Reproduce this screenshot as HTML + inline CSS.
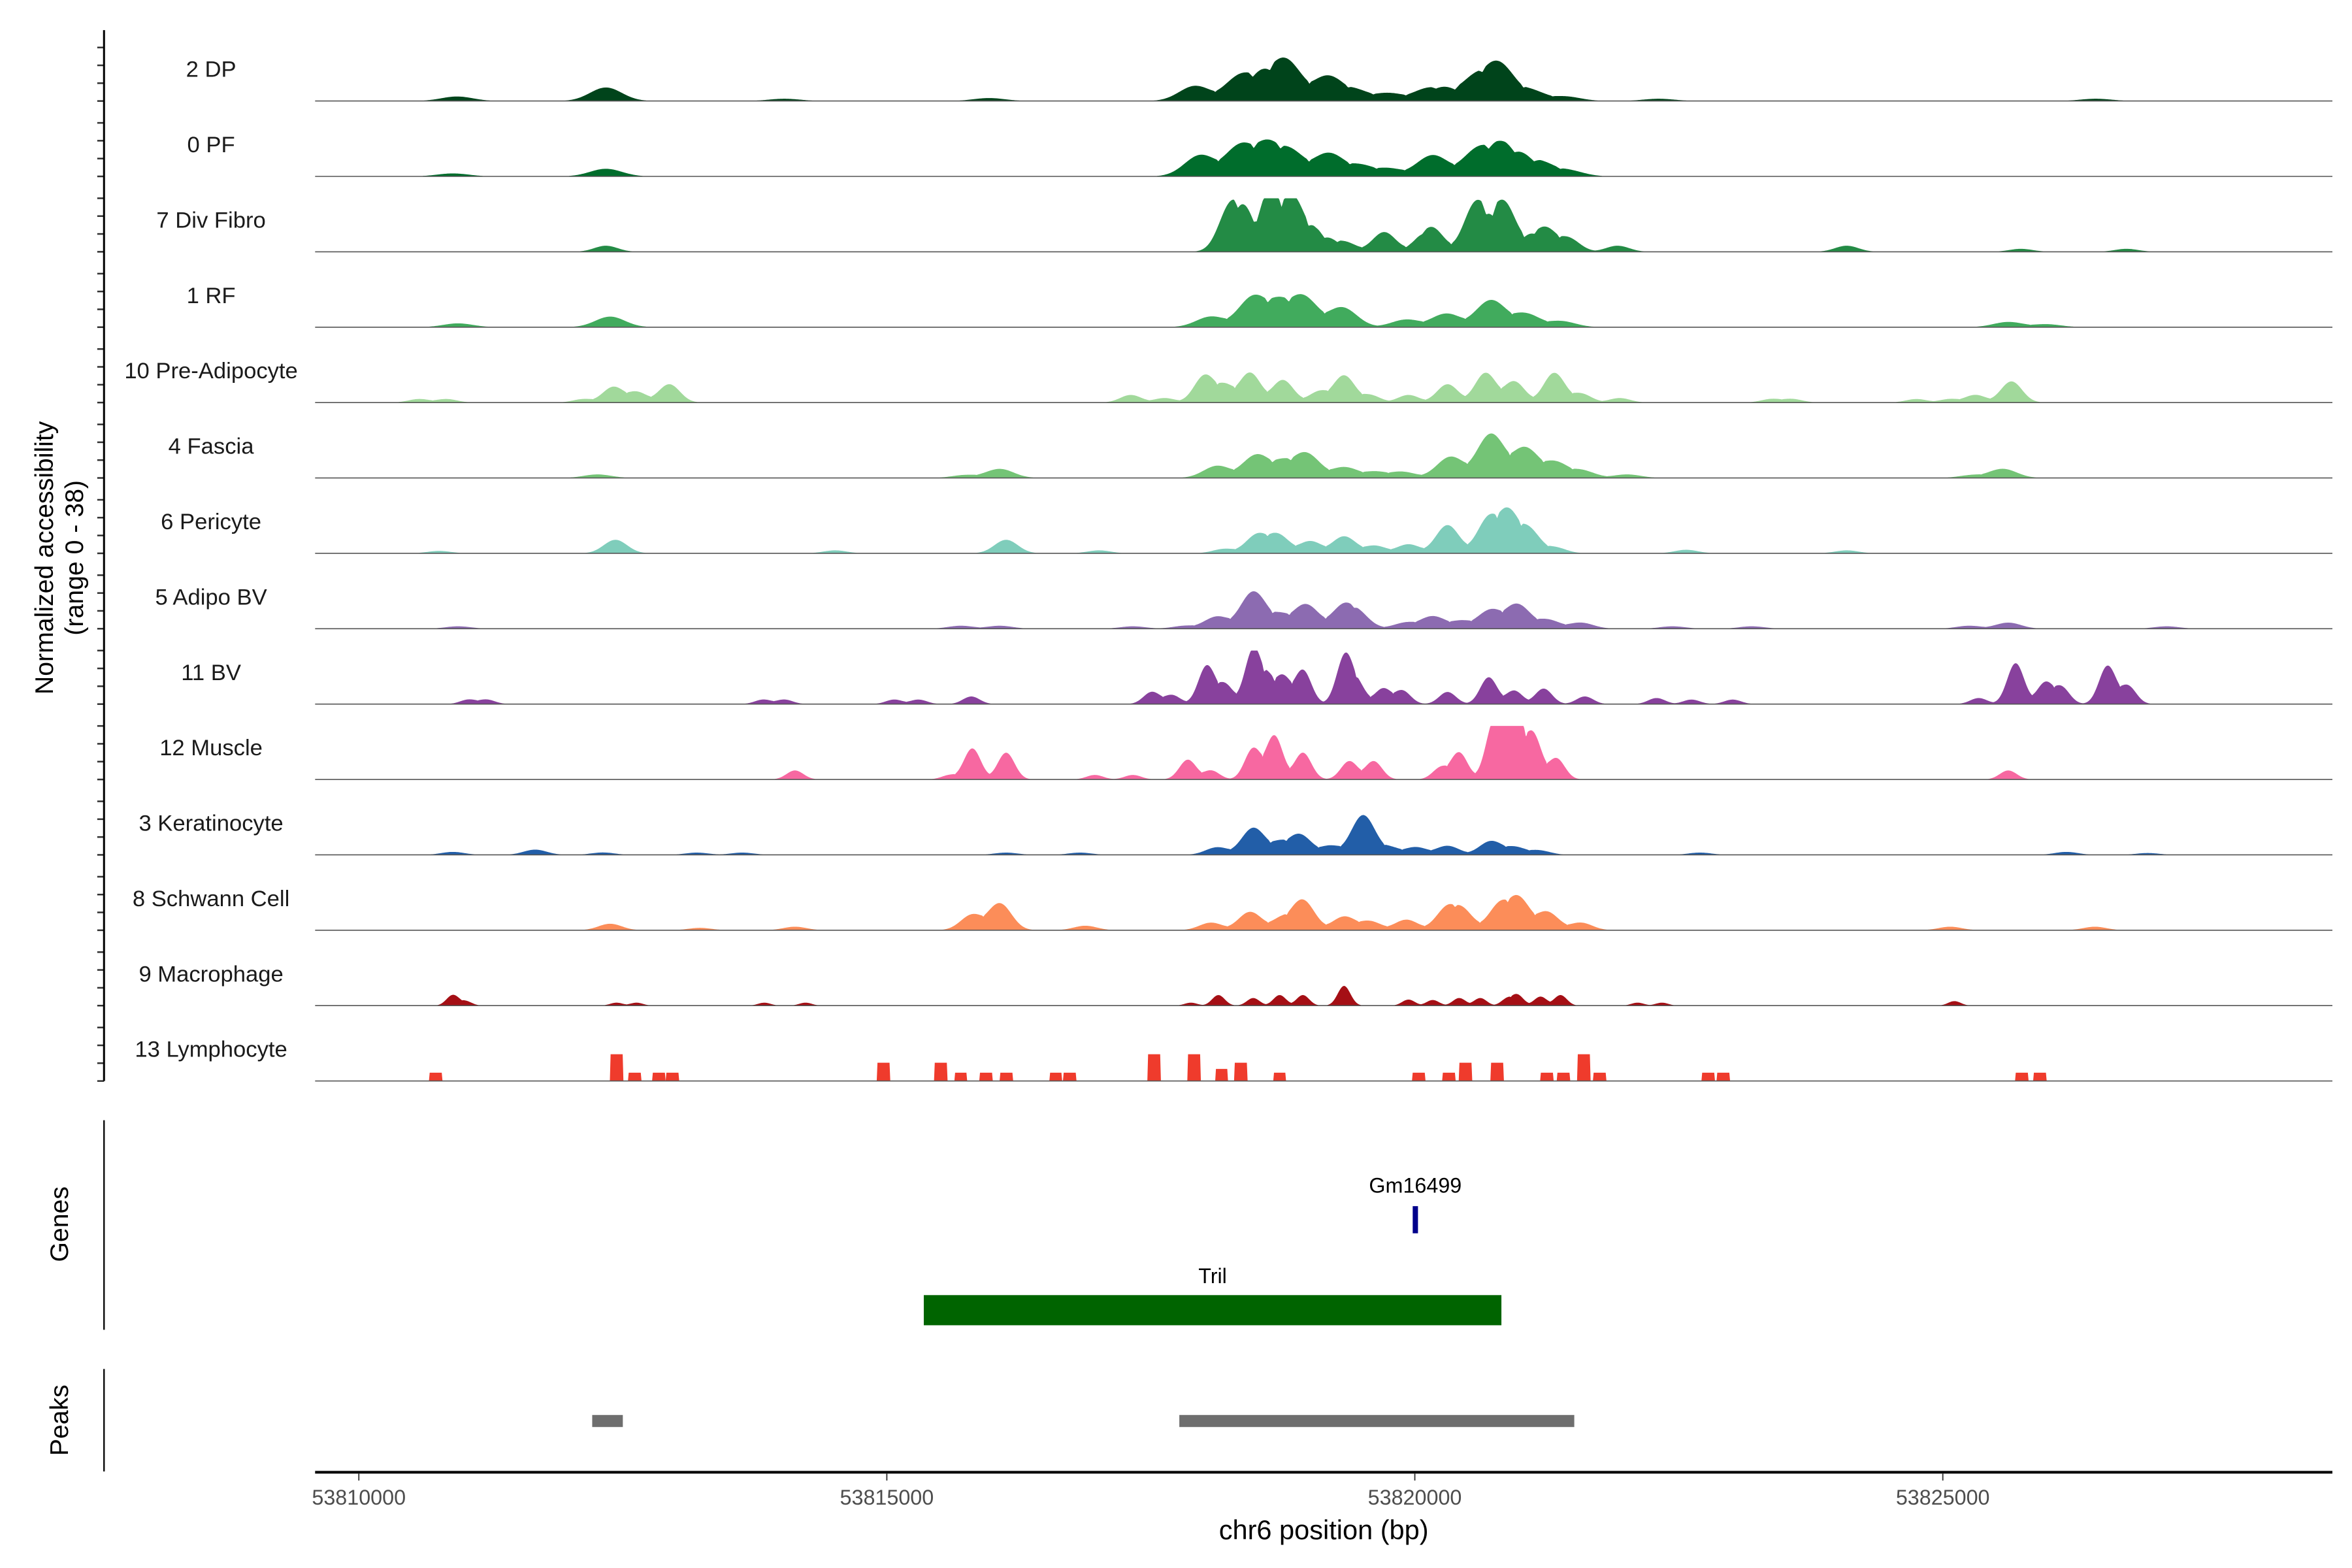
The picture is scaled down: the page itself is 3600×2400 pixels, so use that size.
<!DOCTYPE html>
<html><head><meta charset="utf-8"><title>Coverage plot</title>
<style>html,body{margin:0;padding:0;background:#fff}svg{display:block}text{font-family:"Liberation Sans",Arial,sans-serif}</style>
</head><body>
<svg id="chart" xmlns="http://www.w3.org/2000/svg" width="3600" height="2400" viewBox="0 0 1560 1040">
<g id="tracks"></g>
<g id="axes"></g>
</svg>
<script>
// ---- data (positions in kb from 53,810,000; values in normalized accessibility 0-38) ----
const trackNames = ["2 DP","0 PF","7 Div Fibro","1 RF","10 Pre-Adipocyte","4 Fascia","6 Pericyte","5 Adipo BV","11 BV","12 Muscle","3 Keratinocyte","8 Schwann Cell","9 Macrophage","13 Lymphocyte"];
const trackColors = ["#00441b","#006d2c","#238b45","#41ab5d","#a1d99b","#74c476","#7fcdbb","#8c6bb1","#88419d","#f768a1","#225ea8","#fc8d59","#a50f15","#ef3b2c"];
const trackWidths = [0.15,0.15,0.11,0.14,0.10,0.13,0.11,0.12,0.08,0.08,0.11,0.11,0.06,0.06];
const trackShapes = ["smooth","smooth","smooth","smooth","smooth","smooth","smooth","smooth","smooth","smooth","smooth","smooth","smooth","block"];
const peaks2DP = [[0.93,3.2],[2.34,9.6],[4.03,1.6],[5.97,2.1],[7.92,10.7],[8.35,17],[8.58,17],[8.78,27],[9.17,17],[9.42,7.5],[9.75,5.4],[10.12,7.5],[10.28,7.5],[10.59,16],[10.79,25],[11.08,7.5],[11.42,3.2],[12.31,1.6],[16.45,1.6]];
const peaks0PF = [[0.89,2.1],[2.34,5.4],[7.97,15],[8.35,21],[8.60,21],[8.81,17],[9.18,16],[9.47,7.5],[9.75,5.4],[10.17,15],[10.60,18],[10.81,19],[10.98,13],[11.19,8.6],[11.44,4.3]];
const peaksDivFibro = [[2.34,4.3],[8.25,29],[8.37,25],[8.50,16],[8.64,35],[8.84,36],[9.02,14],[9.17,7.5],[9.34,6.4],[9.71,14],[10.10,9.6],[10.17,14],[10.57,31],[10.70,20],[10.85,32],[11.11,9.6],[11.24,15],[11.45,9.6],[11.92,4.3],[14.09,4.3],[15.74,2.1],[16.74,2.1]];
const peaksRF = [[0.94,2.7],[2.38,7.5],[8.07,7.5],[8.47,21],[8.71,17],[8.94,21],[9.31,14],[9.92,5.4],[10.30,9.6],[10.72,19],[11.04,9.6],[11.38,4.3],[15.62,3.7],[15.98,2.1]];
const peaksPreAdipo = [[0.57,2.5],[0.83,2.5],[2.13,2.5],[2.41,11],[2.63,7.5],[2.94,13],[7.31,5.4],[7.63,3.2],[8.01,19],[8.20,12],[8.44,21],[8.75,16],[9.10,8],[9.33,19],[9.57,5.4],[9.94,5.4],[10.31,13],[10.67,21],[10.94,15],[11.32,21],[11.57,6.4],[11.94,3.2],[13.38,2.5],[13.57,2.5],[14.75,2.5],[15.07,2.5],[15.31,5.4],[15.65,15]];
const peaksFascia = [[2.26,2.5],[5.75,2.1],[6.07,6.4],[8.13,8.6],[8.50,16],[8.75,11],[8.97,17],[9.33,7.5],[9.62,4.3],[9.88,4.3],[10.34,15],[10.72,31],[11.04,21],[11.32,11],[11.57,5.4],[12.01,2.5],[15.29,2.1],[15.57,6.4]];
const peaksPericyte = [[0.76,1.7],[2.43,9.6],[4.51,2.1],[6.13,9.6],[7.01,2.1],[8.20,3.2],[8.51,13],[8.70,13],[9.01,8.6],[9.33,12],[9.62,5.4],[9.94,6.4],[10.31,20],[10.70,24],[10.88,28],[11.07,17],[11.32,4.3],[12.57,2.5],[14.09,2.1]];
const peaksAdipoBV = [[0.94,1.7],[5.70,2.1],[6.07,2.1],[7.33,1.7],[7.83,2.1],[8.13,8.6],[8.47,26],[8.72,9.6],[8.97,17],[9.33,15],[9.44,11],[9.92,4.3],[10.17,8.6],[10.44,5.4],[10.72,13],[10.97,17],[11.25,6.4],[11.57,4.3],[12.44,1.7],[13.19,1.7],[15.25,2.1],[15.62,4.3],[17.12,1.7]];
const peaksBV = [[1.04,3.2],[1.21,3.2],[3.83,3.2],[4.03,3.2],[5.07,3.2],[5.30,3.2],[5.80,5.4],[7.51,8.6],[7.70,6.4],[8.03,27],[8.20,14],[8.47,38],[8.60,18],[8.75,19],[8.94,24],[9.34,34],[9.45,14],[9.70,11],[9.88,9.6],[10.31,8.6],[10.70,19],[10.94,9.6],[11.22,11],[11.61,5.4],[12.29,4.3],[12.62,3.2],[13.01,3.2],[15.34,4.3],[15.69,29],[15.97,15],[16.12,12],[16.56,27],[16.75,13]];
const peaksMuscle = [[4.13,6.4],[5.60,3.2],[5.81,22],[6.13,19],[6.97,3.2],[7.33,3.2],[7.85,14],[8.07,6.4],[8.47,22],[8.67,31],[8.94,19],[9.38,13],[9.61,13],[10.25,8.6],[10.42,19],[10.75,38],[10.86,36],[10.97,38],[11.12,31],[11.34,15],[15.62,6.4]];
const peaksKeratinocyte = [[0.89,2.1],[1.67,3.7],[2.31,1.7],[3.20,1.6],[3.63,1.6],[6.13,1.6],[6.83,1.6],[8.13,5.4],[8.47,19],[8.72,8.6],[8.91,14],[9.20,6.4],[9.51,28],[9.75,5.4],[10.01,5.4],[10.31,6.4],[10.72,9.6],[10.94,5.4],[11.17,3.2],[12.70,1.6],[16.17,2.1],[16.94,1.3]];
const peaksSchwann = [[2.38,4.6],[3.23,1.7],[4.13,2.5],[5.81,11],[6.07,19],[6.88,3.2],[8.07,5.4],[8.44,13],[8.75,8.6],[8.94,21],[9.33,9.6],[9.57,6.4],[9.92,7.5],[10.31,15],[10.44,14],[10.81,18],[10.98,22],[11.25,13],[11.57,5.4],[15.07,2.5],[16.44,2.5]];
const peaksMacrophage = [[0.89,7.5],[1.01,3.2],[2.44,2.1],[2.63,2.1],[3.84,2.1],[4.23,2.1],[7.88,2.1],[8.14,7.5],[8.47,5.4],[8.72,7.5],[8.94,7.5],[9.33,14],[9.94,4.3],[10.17,4],[10.42,5.4],[10.62,5.4],[10.88,5],[10.97,7.5],[11.19,6.4],[11.38,7.5],[12.11,2.1],[12.34,2.1],[15.11,3.2]];
const peaksLymphocyte = [[0.73,5.9],[2.44,19],[2.61,5.9],[2.84,5.9],[2.97,5.9],[4.97,13],[5.51,13],[5.70,5.9],[5.94,5.9],[6.13,5.9],[6.60,5.9],[6.73,5.9],[7.53,19],[7.91,19],[8.17,8.6],[8.35,13],[8.72,5.9],[10.04,5.9],[10.32,5.9],[10.48,13],[10.78,13],[11.25,5.9],[11.41,5.9],[11.60,19],[11.75,5.9],[12.78,5.9],[12.92,5.9],[15.75,5.9],[15.92,5.9]];
const trackPeaks = [peaks2DP,peaks0PF,peaksDivFibro,peaksRF,peaksPreAdipo,peaksFascia,peaksPericyte,peaksAdipoBV,peaksBV,peaksMuscle,peaksKeratinocyte,peaksSchwann,peaksMacrophage,peaksLymphocyte];
const xTicks = [53810000,53815000,53820000,53825000];
const xTickLabels = ["53810000","53815000","53820000","53825000"];
const genes = [{name:"Gm16499",start:53819980,end:53820030,color:"#00008b"},{name:"Tril",start:53815350,end:53820820,color:"#006400"}];
const peakRegions = [[53812210,53812500],[53817770,53821510]];
const yMax = 38;

// ---- scales ----
const X0 = 238, PXPERBP = 350.2/5000;
function xScale(bp){ return X0 + (bp - 53810000) * PXPERBP; }
const TRACK_H = 35.5;
function baseY(i){ return 67 + 50*i; }
function yScale(v,i){ return baseY(i) - Math.min(v,yMax)/yMax*TRACK_H; }

const NS = "http://www.w3.org/2000/svg";
function mk(tag, attrs, parent){ const e=document.createElementNS(NS,tag); for(const k in attrs) e.setAttribute(k,attrs[k]); parent.appendChild(e); return e; }
const tracksG = document.getElementById('tracks');
const axesG = document.getElementById('axes');

function valueAt(kb, pk, w, shape){
  let m = 0, s = 0;
  for (const p of pk){
    let v;
    if (shape === "block") v = Math.abs(kb-p[0]) <= w ? p[1] : 0;
    else { const d=(kb-p[0])/w; v = p[1]*Math.exp(-0.5*d*d); }
    s += v;
    if (v > m) m = v;
  }
  if (shape !== "block") m = Math.min(m + 0.45*(s - m), Math.max(m, 0) * 1.35 + 0.01);
  return m < 0.35 ? 0 : m;
}

for (let i=0;i<trackNames.length;i++){
  const g = mk('g',{},tracksG);
  
  
  const xs0 = 209, xs1 = 1547;
  let d = "M"+xs0+","+baseY(i);
  for (let x=xs0; x<=xs1; x+=0.5){
    const kb = (x - X0)/PXPERBP/1000;
    const v = valueAt(kb, trackPeaks[i], trackWidths[i], trackShapes[i]);
    d += "L"+x.toFixed(1)+","+yScale(v,i).toFixed(2);
  }
  d += "L"+xs1+","+baseY(i)+"Z";
  const area = mk('path',{d:d,fill:trackColors[i],stroke:"none"},g);
  
  
  const bl = mk('line',{x1:209,x2:1547,y1:baseY(i),y2:baseY(i),stroke:"#555",'stroke-width':0.7},g);
  
  
  const lb = mk('text',{x:140,y:baseY(i)-16,'text-anchor':'middle','font-size':15,fill:'#1a1a1a'},g);
  lb.textContent = trackNames[i];
  
  
  for (let k=0;k<4;k++){
    const ty = yScale(yMax*k/3, i);
    const t = mk('line',{x1:64.5,x2:69,y1:ty,y2:ty,stroke:'#333','stroke-width':1.1},g);
    
    
  }
}

// left axes
let a = mk('line',{x1:69,x2:69,y1:20,y2:717,stroke:'#000','stroke-width':1.3},axesG);


let yt = mk('text',{transform:'translate(35,370) rotate(-90)','text-anchor':'middle','font-size':17,fill:'#000'},axesG);
yt.textContent = "Normalized accessibility";


let yt2 = mk('text',{transform:'translate(55,370) rotate(-90)','text-anchor':'middle','font-size':17,fill:'#000'},axesG);
yt2.textContent = "(range 0 - 38)";



// genes panel
a = mk('line',{x1:69,x2:69,y1:743,y2:882,stroke:'#000','stroke-width':1},axesG);


let gt = mk('text',{transform:'translate(45,812) rotate(-90)','text-anchor':'middle','font-size':17,fill:'#000'},axesG);
gt.textContent = "Genes";


const geneRows = [[791,800,18],[851,859,20]];
for (let j=0;j<genes.length;j++){
  const ge = genes[j], row = geneRows[j];
  const x1 = xScale(ge.start), x2 = xScale(ge.end);
  const r = mk('rect',{x:x1,y:row[1],width:Math.max(x2-x1,2),height:row[2],fill:ge.color},axesG);
  
  
  const t = mk('text',{x:(x1+x2)/2,y:row[0],'text-anchor':'middle','font-size':14,fill:'#000'},axesG);
  t.textContent = ge.name;
  
  
}

// peaks panel
a = mk('line',{x1:69,x2:69,y1:908,y2:976,stroke:'#000','stroke-width':1},axesG);


let pt = mk('text',{transform:'translate(45,942) rotate(-90)','text-anchor':'middle','font-size':17,fill:'#000'},axesG);
pt.textContent = "Peaks";


for (const p of peakRegions){
  const r = mk('rect',{x:xScale(p[0]),y:938.5,width:xScale(p[1])-xScale(p[0]),height:8,fill:'#6e6e6e'},axesG);
  
  
}

// x axis
a = mk('line',{x1:209,x2:1547,y1:976.5,y2:976.5,stroke:'#000','stroke-width':1.8},axesG);


for (let j=0;j<xTicks.length;j++){
  const x = xScale(xTicks[j]);
  const t = mk('line',{x1:x,x2:x,y1:977,y2:982,stroke:'#333','stroke-width':0.8},axesG);
  
  
  const l = mk('text',{x:x,y:998,'text-anchor':'middle','font-size':14,fill:'#4d4d4d'},axesG);
  l.textContent = xTickLabels[j];
  
  
}
let xt = mk('text',{x:878,y:1021,'text-anchor':'middle','font-size':18,fill:'#000'},axesG);
xt.textContent = "chr6 position (bp)";


</script>
</body></html>
